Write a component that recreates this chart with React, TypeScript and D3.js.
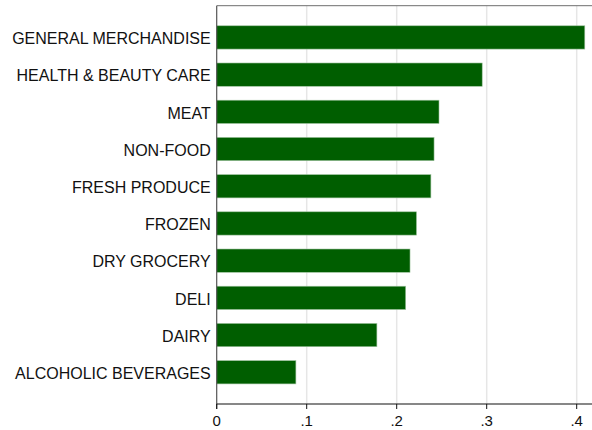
import React from "react";
import * as d3 from "d3";

const categories = [
  "GENERAL MERCHANDISE",
  "HEALTH & BEAUTY CARE",
  "MEAT",
  "NON-FOOD",
  "FRESH PRODUCE",
  "FROZEN",
  "DRY GROCERY",
  "DELI",
  "DAIRY",
  "ALCOHOLIC BEVERAGES",
];
const values = [0.409, 0.295, 0.247, 0.2415, 0.238, 0.222, 0.2148, 0.21, 0.178, 0.088];
const xTicks = [0, 0.1, 0.2, 0.3, 0.4];
const xTickLabels = ["0", ".1", ".2", ".3", ".4"];

export default function App() {
  const W = 592, H = 430;
  const left = 216.7, top = 5.7, bottom = 404;
  const x = d3.scaleLinear().domain([0, 0.4]).range([left, left + 360]);
  const y = d3.scaleBand<string>().domain(categories).range([top, bottom]).paddingInner(0.374).paddingOuter(0.54);
  const font = "'Liberation Sans', Arial, sans-serif";
  return (
    <svg width={W} height={H} style={{ position: "absolute", left: 0, top: 0, background: "#fff" }}>
      {xTicks.slice(1).map((t) => (
        <line key={"g" + t} x1={x(t)} x2={x(t)} y1={top} y2={bottom} stroke="#e6e6e6" strokeWidth={1.5} />
      ))}
      <line x1={left} x2={W} y1={top} y2={top} stroke="#6e6e6e" strokeWidth={1} />
      {categories.map((c, i) => (
        <rect
          key={c}
          x={x(0)}
          y={y(c)!}
          width={x(values[i]) - x(0)}
          height={y.bandwidth()}
          fill="#005e00"
          stroke="#9fc39f"
          strokeWidth={0.6}
        />
      ))}
      <line x1={left} x2={left} y1={top} y2={bottom + 5} stroke="#555" strokeWidth={1.2} />
      {categories.map((c) => (
        <text key={"l" + c} x={left - 6} y={y(c)! + y.bandwidth() / 2 + 1} dy="0.36em" textAnchor="end" fontFamily={font} fontSize={16} fill="#111">
          {c}
        </text>
      ))}
      <line x1={left} x2={W} y1={bottom} y2={bottom} stroke="#111" strokeWidth={1.2} />
      {xTicks.map((t, i) => (
        <g key={"t" + t}>
          <line x1={x(t)} x2={x(t)} y1={bottom} y2={bottom + 5} stroke="#111" strokeWidth={1} />
          <text x={x(t)} y={bottom + 17} dy="0.36em" textAnchor="middle" fontFamily={font} fontSize={15} fill="#111">
            {xTickLabels[i]}
          </text>
        </g>
      ))}
    </svg>
  );
}
